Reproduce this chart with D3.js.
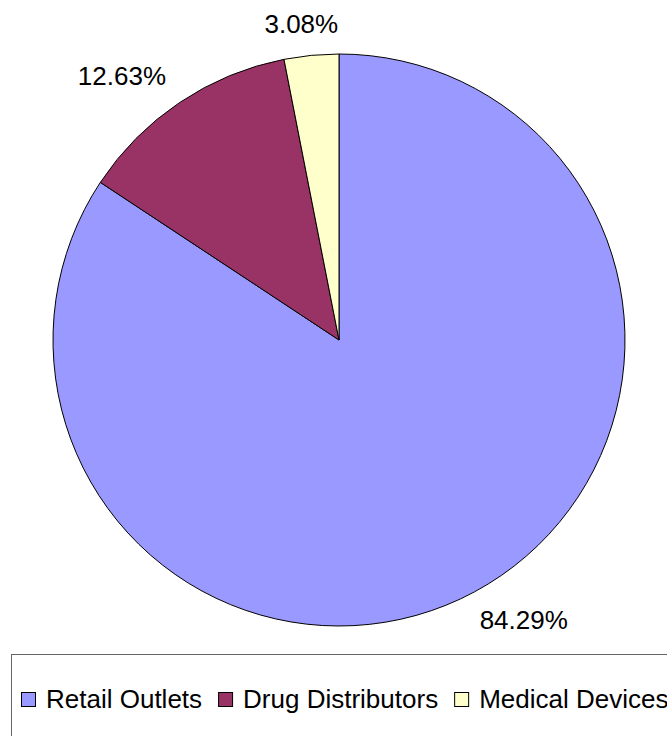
<!DOCTYPE html>
<html>
<head>
<meta charset="utf-8">
<script src="https://cdn.jsdelivr.net/npm/d3@7"></script>
<style>
  body { margin: 0; background: #fff; }
  text { font-family: "Liberation Sans", Arial, sans-serif; fill: #000; }
</style>
</head>
<body>
<div id="chart"></div>
<script>
const categories = ["Retail Outlets", "Drug Distributors", "Medical Devices"];
const shares = [84.29, 12.63, 3.08];
const labels = ["84.29%", "12.63%", "3.08%"];
const colors = ["#9999FF", "#993366", "#FFFFCC"];

const width = 667;
const height = 736;
const cx = 339, cy = 340, radius = 286;

const data = categories.map((c, i) => ({ name: c, value: shares[i], label: labels[i] }));

const svg = d3
  .select("#chart")
  .append("svg")
  .attr("width", width)
  .attr("height", height);

const color = d3.scaleOrdinal().domain(categories).range(colors);

// Pie, clockwise from 12 o'clock
const pie = d3.pie().sort(null).value((d) => d.value);
const arc = d3.arc().innerRadius(0).outerRadius(radius);
const arcs = pie(data);

const g = svg.append("g").attr("transform", `translate(${cx}, ${cy})`);

g.selectAll("path")
  .data(arcs)
  .join("path")
  .attr("d", arc)
  .attr("fill", (d) => color(d.data.name))
  .attr("stroke", "#000")
  .attr("stroke-width", 1);

// Labels outside the pie
const labelRx = 390, labelRy = 318;
g.selectAll("text.lbl")
  .data(arcs)
  .join("text")
  .attr("class", "lbl")
  .attr("x", (d) => labelRx * Math.sin((d.startAngle + d.endAngle) / 2))
  .attr("y", (d) => -labelRy * Math.cos((d.startAngle + d.endAngle) / 2))
  .attr("dy", "0.36em")
  .attr("text-anchor", "middle")
  .style("font-size", "26px")
  .text((d) => d.data.label);

// Legend
svg.append("rect")
  .attr("x", 11.5)
  .attr("y", 654.5)
  .attr("width", 700)
  .attr("height", 100)
  .attr("fill", "#fff")
  .attr("stroke", "#666")
  .attr("stroke-width", 1);

let lx = 21;
categories.forEach((c) => {
  svg.append("rect")
    .attr("x", lx + 0.5)
    .attr("y", 692.5)
    .attr("width", 14)
    .attr("height", 14)
    .attr("fill", color(c))
    .attr("stroke", "#000")
    .attr("stroke-width", 1);
  const t = svg.append("text")
    .attr("x", lx + 25)
    .attr("y", 708)
    .style("font-size", "26px")
    .text(c);
  lx += 25 + t.node().getComputedTextLength() + 16;
});
</script>
</body>
</html>
